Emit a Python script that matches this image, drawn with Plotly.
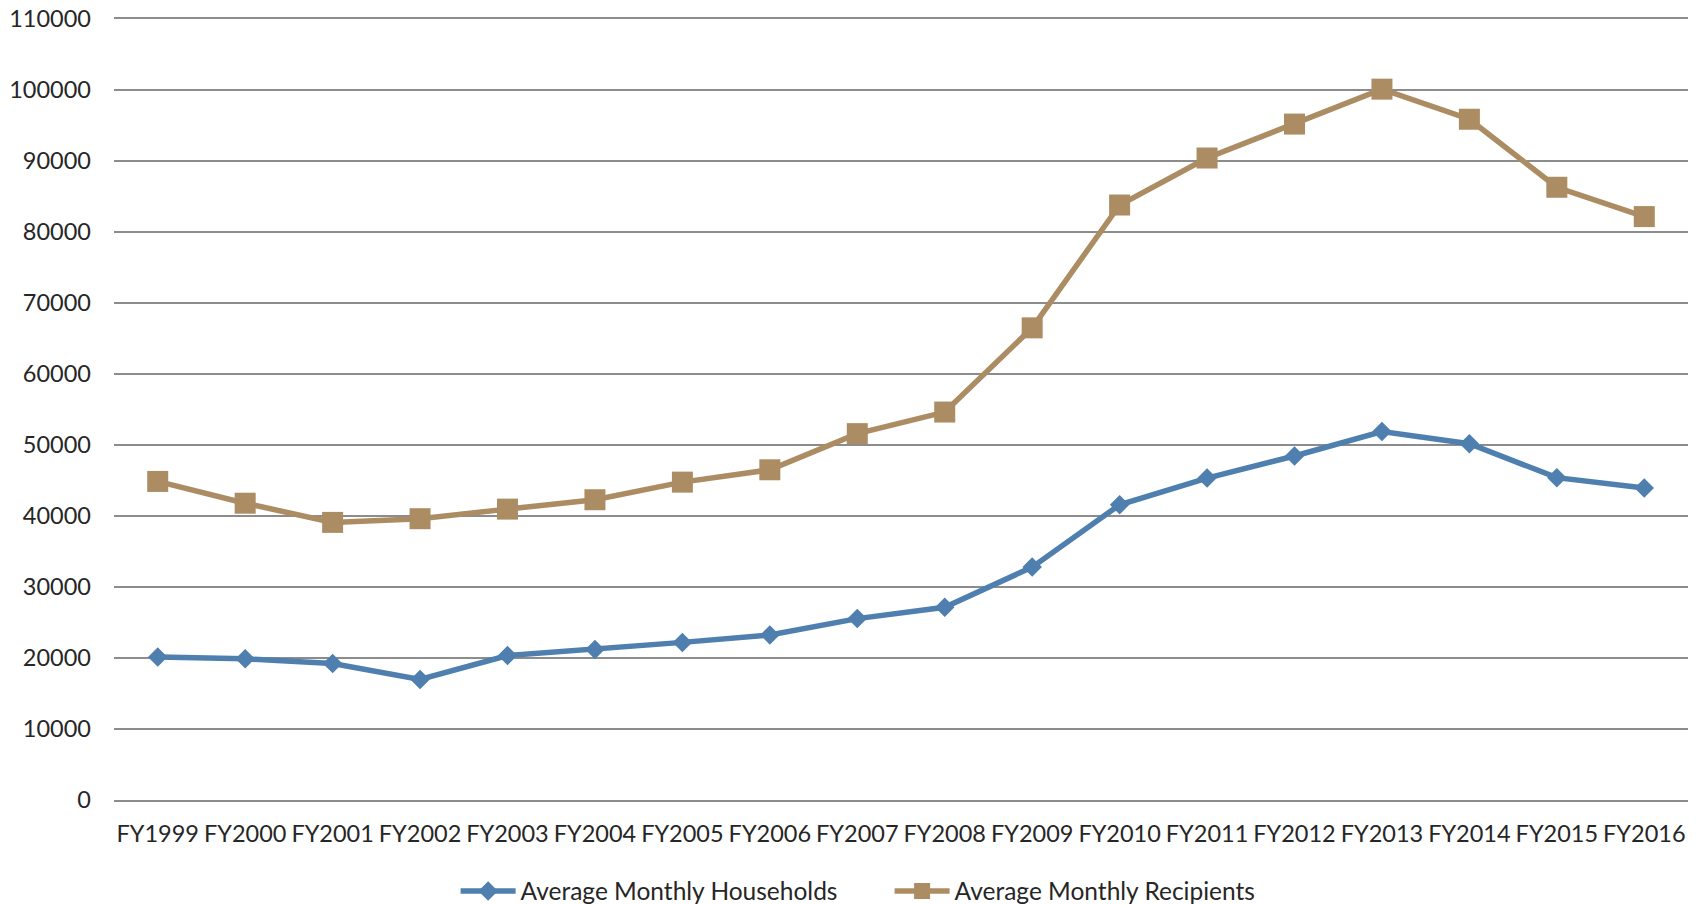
import plotly.graph_objects as go

years = ["FY1999", "FY2000", "FY2001", "FY2002", "FY2003", "FY2004", "FY2005", "FY2006",
         "FY2007", "FY2008", "FY2009", "FY2010", "FY2011", "FY2012", "FY2013", "FY2014",
         "FY2015", "FY2016"]
households = [20150, 19880, 19220, 16970, 20350, 21190, 22200, 23250, 25550, 27150,
              32800, 41580, 45340, 48450, 51900, 50180, 45400, 43940]
recipients = [44870, 41800, 39100, 39620, 40970, 42290, 44770, 46510, 51600, 54640,
              66500, 83800, 90420, 95200, 100120, 95880, 86300, 82170]

BLUE = "#4E7FAE"
TAN = "#AC8C63"
GRID = "#8C8C8C"
TXT = "#262626"
FONT = "Lato"

fig = go.Figure()
fig.add_trace(go.Scatter(
    x=years, y=households, name="Average Monthly Households", mode="lines+markers",
    line=dict(color=BLUE, width=5.5),
    marker=dict(symbol="diamond", size=15, color=BLUE),
))
fig.add_trace(go.Scatter(
    x=years, y=recipients, name="Average Monthly Recipients", mode="lines+markers",
    line=dict(color=TAN, width=5.5),
    marker=dict(symbol="square", size=21, color=TAN),
))

fig.update_layout(
    width=1700, height=905,
    margin=dict(l=114, r=12, t=19, b=105, autoexpand=False),
    paper_bgcolor="white", plot_bgcolor="white",
    font=dict(family=FONT, size=23, color=TXT),
    showlegend=True,
    legend=dict(orientation="h", x=0.268, xanchor="left", xref="container",
                y=14 / 905, yanchor="middle", yref="container",
                font=dict(family=FONT, size=24.5, color=TXT),
                itemwidth=55, tracegroupgap=0, entrywidth=364, entrywidthmode="pixels"),
    xaxis=dict(type="category", range=[-0.5, 17.5], showgrid=False, zeroline=False,
               showline=True, mirror=True, linecolor=GRID, linewidth=1.5,
               ticks="", ticklabelstandoff=12, automargin=False,
               ticklabeloverflow="allow",
               tickfont=dict(family=FONT, size=23.5, color=TXT)),
    yaxis=dict(range=[0, 110000], dtick=10000, tickformat="d", showgrid=True,
               gridcolor=GRID, gridwidth=1.5, zeroline=False, showline=False,
               ticks="", ticklabelstandoff=22, automargin=False,
               ticklabeloverflow="allow",
               tickfont=dict(family=FONT, size=23.5, color=TXT)),
)

fig.write_html("out.html",
               config={"displayModeBar": False},
               post_script="document.body.style.margin='0px';")
